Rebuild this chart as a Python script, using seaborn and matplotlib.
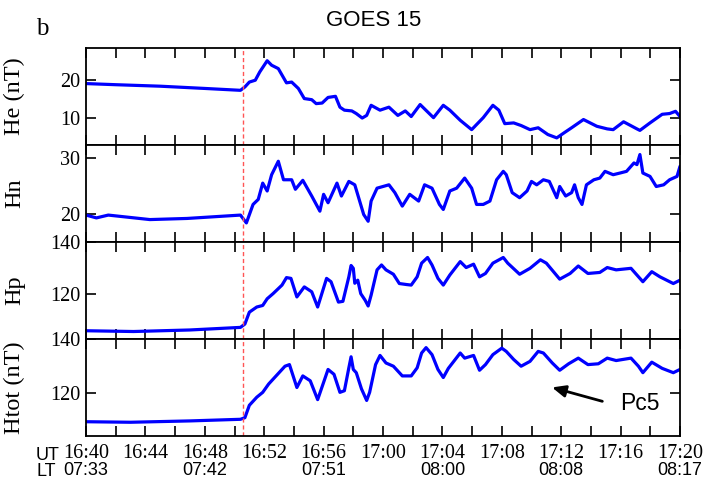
import numpy as np
import pandas as pd
import matplotlib
matplotlib.use("Agg")
import matplotlib.pyplot as plt
import seaborn as sns

# ---- data (minutes after 16:40 UT) ----
he_t = [0, 2, 5, 8, 10.4, 10.7, 11.0, 11.4, 11.7, 12.2, 12.5, 12.95, 13.5, 13.85, 14.3, 14.7,
        15.2, 15.5, 15.9, 16.3, 16.8, 17.1, 17.4, 17.9, 18.2, 18.6, 18.9, 19.2, 19.8, 20.4,
        21.0, 21.5, 21.9, 22.5, 23.4, 24.06, 24.5, 25.2, 25.97, 26.75, 27.4, 27.8, 28.2, 28.8,
        29.3, 29.9, 30.45, 31.1, 31.7, 32.25, 32.7, 33.5, 34.4, 35.1, 35.5, 36.2, 37.1, 37.3,
        37.98, 38.8, 39.3, 39.7, 40]
he_v = [19.1, 18.8, 18.4, 17.8, 17.3, 18.2, 19.5, 20.0, 22.2, 25.2, 24.0, 23.1, 19.3, 19.5, 17.8, 15.1,
        14.8, 13.75, 13.9, 15.4, 15.7, 12.8, 12.0, 11.8, 11.1, 9.9, 10.6, 13.3, 12.0, 12.8,
        10.6, 11.8, 10.3, 13.5, 10.0, 13.3, 12.0, 9.3, 6.8, 10.0, 13.3, 12.0, 8.4, 8.6,
        7.9, 6.8, 7.3, 5.5, 4.6, 6.1, 7.3, 9.5, 7.7, 7.0, 6.8, 8.9, 7.0, 6.6,
        8.6, 10.9, 11.1, 11.7, 10.3]

hn_t = [0, 0.7, 1.5, 4.3, 6.8, 10.4, 10.8, 11.25, 11.6, 11.9, 12.2, 12.5, 12.95, 13.3, 13.85,
        14.1, 14.6, 15.2, 15.75, 16.0, 16.3, 16.9, 17.2, 17.7, 18.1, 18.7, 19.0, 19.2, 19.6,
        20.4, 20.8, 21.3, 21.8, 22.4, 22.8, 23.3, 23.8, 24.06, 24.5, 24.96, 25.5, 25.97, 26.3,
        26.75, 27.2, 27.65, 28.1, 28.3, 28.7, 29.2, 29.7, 30.0, 30.35, 30.8, 31.2, 31.7, 31.9,
        32.3, 32.7, 32.9, 33.15, 33.4, 33.7, 34.2, 34.6, 34.95, 35.5, 35.96, 36.4, 36.9, 37.1,
        37.3, 37.5, 37.98, 38.4, 38.9, 39.3, 39.8, 40]
hn_v = [19.8, 19.3, 19.8, 19.0, 19.2, 19.8, 18.4, 21.7, 22.6, 25.5, 24.1, 27.0, 29.4, 26.1, 26.1,
        24.4, 26.0, 23.2, 20.5, 23.5, 22.0, 25.5, 23.2, 25.8, 25.2, 19.9, 18.7, 22.3, 24.6,
        25.2, 23.8, 21.4, 23.5, 22.3, 25.2, 24.6, 21.7, 20.8, 24.1, 24.6, 26.4, 24.6, 21.7,
        21.7, 22.3, 26.1, 27.6, 27.0, 23.8, 22.9, 24.1, 25.8, 25.2, 26.1, 25.8, 22.9, 24.9,
        23.2, 23.8, 25.2, 22.9, 21.7, 25.2, 26.1, 26.4, 27.6, 27.0, 27.3, 27.6, 29.1, 28.8,
        30.6, 27.3, 26.7, 24.9, 25.2, 26.1, 26.7, 28.5]

hp_t = [0, 3.2, 7, 10.4, 10.7, 11.0, 11.5, 11.9, 12.2, 12.6, 13.2, 13.5, 13.8, 14.2, 14.7,
        15.2, 15.6, 16.2, 16.5, 17.0, 17.3, 17.7, 17.85, 18.0, 18.1, 18.3, 18.5, 18.8, 19.0,
        19.2, 19.6, 19.9, 20.2, 20.7, 21.1, 21.6, 21.9, 22.3, 22.6, 23.0, 23.3, 23.7, 24.06,
        24.5, 25.2, 25.6, 26.1, 26.5, 26.9, 27.4, 28.1, 28.4, 29.2, 29.9, 30.6, 31.0, 31.9,
        32.6, 33.15, 33.8, 34.6, 35.1, 35.7, 36.7, 37.1, 37.5, 38.1, 38.65, 39.55, 40]
hp_v = [105.6, 105.3, 105.9, 106.9, 108.2, 112.8, 114.8, 115.4, 118.0, 120.0, 123.3, 126.2, 125.9, 118.7, 122.6,
        120.7, 114.8, 125.9, 124.6, 116.7, 117.0, 126.5, 130.9, 129.8, 124.0, 125.2, 120.0, 117.4, 115.2,
        119.4, 129.2, 131.1, 129.2, 127.5, 123.9, 123.5, 123.3, 126.5, 131.8, 134.0, 131.1, 125.9, 123.3,
        127.2, 132.4, 130.1, 131.4, 126.5, 127.8, 131.8, 134.0, 131.8, 127.5, 129.8, 133.1, 131.8, 125.6,
        127.8, 130.7, 127.8, 128.2, 130.1, 129.2, 129.8, 127.2, 124.6, 128.5, 126.5, 123.9, 125.2]

ht_t = [0, 3, 7, 10.4, 10.7, 11.0, 11.5, 11.9, 12.3, 12.8, 13.4, 13.7, 14.2, 14.6, 15.1,
        15.6, 16.3, 16.7, 17.1, 17.4, 17.7, 17.85, 18.0, 18.2, 18.55, 18.9, 19.1, 19.5, 19.8,
        20.2, 20.7, 21.3, 21.9, 22.3, 22.6, 22.9, 23.3, 23.7, 24.06, 24.4, 25.2, 25.5, 26.1,
        26.5, 26.9, 27.4, 28.0, 28.3, 28.8, 29.3, 29.9, 30.45, 30.8, 31.4, 31.9, 32.5, 33.15,
        33.8, 34.5, 35.1, 35.7, 36.7, 37.2, 37.5, 38.1, 38.8, 39.55, 40]
ht_v = [109.3, 109.1, 109.6, 110.2, 110.8, 115.4, 118.4, 120.2, 123.3, 126.3, 129.9, 130.5, 122.0, 126.3, 124.5,
        117.5, 128.7, 126.9, 120.2, 120.8, 129.3, 133.4, 128.7, 127.5, 121.5, 117.2, 120.2, 130.5, 133.9,
        131.1, 129.9, 126.3, 126.3, 129.3, 134.8, 136.8, 134.2, 128.7, 125.7, 129.1, 134.8, 132.9, 133.9,
        128.4, 130.5, 134.2, 136.6, 135.4, 132.4, 129.9, 131.7, 135.4, 134.8, 131.1, 128.4, 130.8, 132.9,
        130.5, 130.8, 132.9, 132.0, 132.9, 129.9, 127.5, 131.4, 129.1, 127.5, 128.7]

panel_labels = ["He (nT)", "Hn", "Hp", "Htot (nT)"]
panel_ylims = [(2.7, 28.6), (15.0, 32.3), (102.4, 140.0), (104.0, 140.0)]
panel_yticks = [[10, 20], [20, 30], [120, 140], [120, 140]]

ut_ticks = [0, 4, 8, 12, 16, 20, 24, 28, 32, 36, 40]
ut_labels = ["16:40", "16:44", "16:48", "16:52", "16:56", "17:00", "17:04", "17:08", "17:12", "17:16", "17:20"]
lt_ticks = [0, 8, 16, 24, 32, 40]
lt_labels = ["07:33", "07:42", "07:51", "08:00", "08:08", "08:17"]
event_t = 10.55

series = [(he_t, he_v), (hn_t, hn_v), (hp_t, hp_v), (ht_t, ht_v)]

sns.set_style("ticks")
SERIF = "Liberation Serif"
SANS = "Liberation Sans"
plt.rcParams["font.family"] = [SERIF, "DejaVu Serif"]
plt.rcParams.update({"text.color": "black", "axes.labelcolor": "black",
                     "xtick.color": "black", "ytick.color": "black",
                     "axes.edgecolor": "black"})

fig = plt.figure(figsize=(7.07, 4.84), dpi=100)
gs = fig.add_gridspec(4, 1, left=86/707, right=680/707, top=1-48/484, bottom=1-436/484, hspace=0)

axes = []
for i, ((tt, vv), lab, ylim, yt) in enumerate(zip(series, panel_labels, panel_ylims, panel_yticks)):
    ax = fig.add_subplot(gs[i])
    df = pd.DataFrame({"t": tt, "v": vv})
    sns.lineplot(data=df, x="t", y="v", ax=ax, color="#0000ff", lw=2.3, sort=True)
    ax.axvline(event_t, color="#ff5555", lw=1.0, ls=(0, (3, 2)))
    ax.set_xlim(0, 40)
    ax.set_ylim(*ylim)
    ax.set_yticks(yt)
    ax.set_xticks(np.arange(0, 41, 2))
    ax.set_xlabel("")
    ax.set_ylabel(lab, fontsize=17.5, family=SERIF)
    ax.yaxis.set_label_coords(-0.103, 0.5)
    ax.tick_params(axis="both", direction="in", top=True, right=True, length=7, width=1.2,
                   labelsize=14.5, pad=4, colors="black")
    ax.tick_params(axis="x", labelbottom=False)
    for sp in ax.spines.values():
        sp.set_linewidth(1.3)
        sp.set_color("black")
    axes.append(ax)

axb = axes[-1]
labels_all = []
for m in np.arange(0, 41, 2):
    if m in ut_ticks:
        labels_all.append(ut_labels[ut_ticks.index(m)])
    else:
        labels_all.append("")
axb.set_xticklabels(labels_all)
axb.tick_params(axis="x", labelbottom=True, pad=6)
trans = matplotlib.transforms.blended_transform_factory(axb.transData, axb.transAxes)
for m, s in zip(lt_ticks, lt_labels):
    axb.text(m, -0.354, s, transform=trans, ha="center", va="center", fontsize=13, family=SANS)

fig.text(36/707, 1-455/484, "UT", ha="left", va="center", fontsize=13, family=SANS)
fig.text(36/707, 1-471/484, "LT", ha="left", va="center", fontsize=13, family=SANS)

# Pc5 annotation
axb.annotate("", xy=(31.2, 122.3), xytext=(34.95, 116.6),
             arrowprops=dict(arrowstyle="-|>,head_length=0.8,head_width=0.35", color="black", lw=2))
axb.text(35.96, 116.1, "Pc5", ha="left", va="center", fontsize=16.5, family=SANS)

fig.text(374/707, 1-20/484, "GOES 15", ha="center", va="center", fontsize=16, family=SANS)
fig.text(36/707, 1-35/484, "b", ha="left", va="baseline", fontsize=18, family=SERIF)

fig.savefig("out.png", dpi=100)
